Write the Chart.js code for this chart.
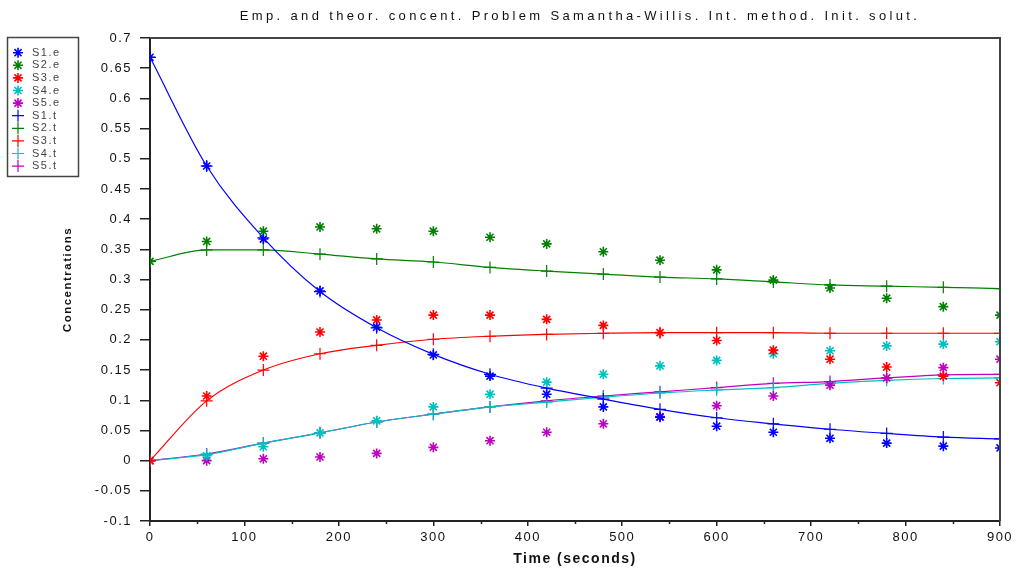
<!DOCTYPE html>
<html>
<head>
<meta charset="utf-8">
<script src="https://cdn.jsdelivr.net/npm/chart.js@4/dist/chart.umd.min.js"></script>
<style>
  html, body { margin: 0; padding: 0; background: #fff; }
  #wrap { width: 1022px; height: 571px; }
</style>
</head>
<body>
<div id="wrap"><canvas id="cnv" width="1022" height="571"></canvas></div>
<script>
// sample times (seconds)
var times = [0, 60, 120, 180, 240, 300, 360, 420, 480, 540, 600, 660, 720, 780, 840, 900];

// empirical concentrations
var s1e = [0.668, 0.488, 0.367, 0.281, 0.221, 0.175, 0.140, 0.110, 0.089, 0.072, 0.057, 0.047, 0.037, 0.029, 0.024, 0.021];
var s2e = [0.330, 0.363, 0.380, 0.387, 0.384, 0.380, 0.370, 0.359, 0.346, 0.332, 0.316, 0.299, 0.286, 0.269, 0.255, 0.241];
var s3e = [0.000, 0.107, 0.173, 0.213, 0.233, 0.241, 0.241, 0.234, 0.224, 0.212, 0.199, 0.183, 0.168, 0.155, 0.140, 0.129];
var s4e = [0.000, 0.008, 0.023, 0.046, 0.066, 0.089, 0.110, 0.130, 0.143, 0.157, 0.166, 0.177, 0.182, 0.190, 0.193, 0.197];
var s5e = [0.000, 0.000, 0.003, 0.006, 0.012, 0.022, 0.033, 0.047, 0.061, 0.073, 0.091, 0.107, 0.125, 0.137, 0.154, 0.168];

// theoretical concentrations
var s1t = [0.668, 0.488, 0.369, 0.280, 0.220, 0.176, 0.143, 0.120, 0.102, 0.085, 0.071, 0.061, 0.052, 0.045, 0.039, 0.036];
var s2t = [0.330, 0.349, 0.349, 0.342, 0.334, 0.329, 0.320, 0.314, 0.309, 0.304, 0.301, 0.296, 0.291, 0.289, 0.287, 0.285];
var s3t = [0.000, 0.099, 0.150, 0.177, 0.191, 0.201, 0.206, 0.209, 0.211, 0.212, 0.212, 0.212, 0.211, 0.211, 0.211, 0.211];
var s4t = [0.000, 0.010, 0.029, 0.046, 0.064, 0.077, 0.089, 0.097, 0.105, 0.112, 0.117, 0.121, 0.128, 0.133, 0.136, 0.137];
var s5t = [0.000, 0.011, 0.029, 0.046, 0.064, 0.077, 0.089, 0.099, 0.107, 0.114, 0.121, 0.128, 0.131, 0.137, 0.142, 0.143];

var names = ['S1.e', 'S2.e', 'S3.e', 'S4.e', 'S5.e', 'S1.t', 'S2.t', 'S3.t', 'S4.t', 'S5.t'];
var colors = ['#0000ff', '#008000', '#ff0000', '#00bfbf', '#bf00bf'];
var titleText = 'Emp. and theor. concent. Problem Samantha-Willis. Int. method. Init. solut.';

function pts(vals) {
    return vals.map(function (v, i) { return { x: times[i], y: v }; });
}

var emp = [s1e, s2e, s3e, s4e, s5e];
var theo = [s1t, s2t, s3t, s4t, s5t];
var datasets = [];
for (var i = 0; i < 5; i++) {
    datasets.push({
        label: names[i],
        data: pts(emp[i]),
        showLine: false,
        pointStyle: 'star',
        pointRadius: 5,
        pointHoverRadius: 5,
        borderWidth: 1.6,
        borderColor: colors[i],
        backgroundColor: colors[i],
        clip: 0
    });
}
for (var j = 0; j < 5; j++) {
    datasets.push({
        label: names[j + 5],
        data: pts(theo[j]),
        showLine: true,
        cubicInterpolationMode: 'monotone',
        pointStyle: 'cross',
        pointRadius: 6,
        pointHoverRadius: 6,
        borderWidth: 1.2,
        borderColor: colors[j],
        backgroundColor: colors[j],
        clip: 0
    });
}

var FONT = '"Liberation Sans", Arial, sans-serif';

// title, box around plot, minor x ticks and the legend box at left
var decor = {
    id: 'decor',
    beforeDraw: function (chart) {
        chart.ctx.letterSpacing = '1.5px';
    },
    afterDraw: function (chart) {
        var ctx = chart.ctx, a = chart.chartArea, xs = chart.scales.x;
        ctx.save();
        ctx.fillStyle = '#111';
        ctx.font = '13px ' + FONT;
        ctx.letterSpacing = '3.35px';
        ctx.textAlign = 'center';
        ctx.textBaseline = 'middle';
        ctx.fillText(titleText, 580, 16);

        ctx.strokeStyle = '#444';
        ctx.lineWidth = 2;
        ctx.beginPath();
        ctx.moveTo(a.left, a.top);
        ctx.lineTo(a.right, a.top);
        ctx.lineTo(a.right, a.bottom);
        ctx.stroke();
        ctx.lineWidth = 1.5;
        ctx.strokeStyle = '#222';
        for (var t = 50; t < 900; t += 100) {
            var px = Math.round(xs.getPixelForValue(t)) + 0.5;
            ctx.beginPath();
            ctx.moveTo(px, a.bottom);
            ctx.lineTo(px, a.bottom + 3);
            ctx.stroke();
        }
        // legend
        ctx.strokeStyle = '#444';
        ctx.lineWidth = 1.5;
        ctx.strokeRect(7.5, 37.5, 71, 139);
        ctx.font = '11px ' + FONT;
        ctx.letterSpacing = '1.5px';
        ctx.textBaseline = 'middle';
        ctx.textAlign = 'left';
        chart.data.datasets.forEach(function (ds, k) {
            var y = 52.7 + k * 12.6;
            ctx.strokeStyle = ds.borderColor;
            ctx.fillStyle = ds.borderColor;
            ctx.lineWidth = ds.borderWidth;
            Chart.helpers.drawPoint(ctx, { pointStyle: ds.pointStyle, radius: ds.pointRadius, rotation: 0, borderWidth: ds.borderWidth }, 18, y);
            ctx.fillStyle = '#444';
            ctx.fillText(ds.label, 32, y);
        });
        ctx.restore();
    }
};

new Chart(document.getElementById('cnv'), {
    type: 'scatter',
    data: { datasets: datasets },
    plugins: [decor],
    options: {
        responsive: false,
        animation: false,
        layout: { padding: { left: 0, right: 22, top: 38, bottom: 0 } },
        plugins: {
            legend: { display: false },
            tooltip: { enabled: false },
            title: { display: false }
        },
        scales: {
            x: {
                type: 'linear',
                min: 0,
                max: 900,
                afterFit: function (s) { s.height = 50; },
                ticks: { stepSize: 100, color: '#111', padding: 4,
                    font: { family: FONT, size: 13 } },
                grid: { drawOnChartArea: false, tickLength: 5, color: '#222', lineWidth: 1.5 },
                border: { color: '#222', width: 2 },
                title: {
                    display: true,
                    text: 'Time (seconds)',
                    color: '#111',
                    font: { family: FONT, size: 14, weight: 'bold' },
                    padding: { top: 0, bottom: 3 }
                }
            },
            y: {
                min: -0.1,
                max: 0.7,
                afterFit: function (s) { s.width = 150; },
                ticks: {
                    stepSize: 0.05,
                    color: '#111',
                    padding: 8,
                    font: { family: FONT, size: 13 },
                    callback: function (v) { return String(Math.round(v * 100) / 100); }
                },
                grid: { drawOnChartArea: false, tickLength: 10, color: '#222', lineWidth: 1.5 },
                border: { color: '#222', width: 2 },
                title: {
                    display: true,
                    text: 'Concentrations',
                    color: '#111',
                    font: { family: FONT, size: 11.5, weight: 'bold' },
                    padding: { top: 61, bottom: 0 }
                }
            }
        }
    }
});
</script>
</body>
</html>
